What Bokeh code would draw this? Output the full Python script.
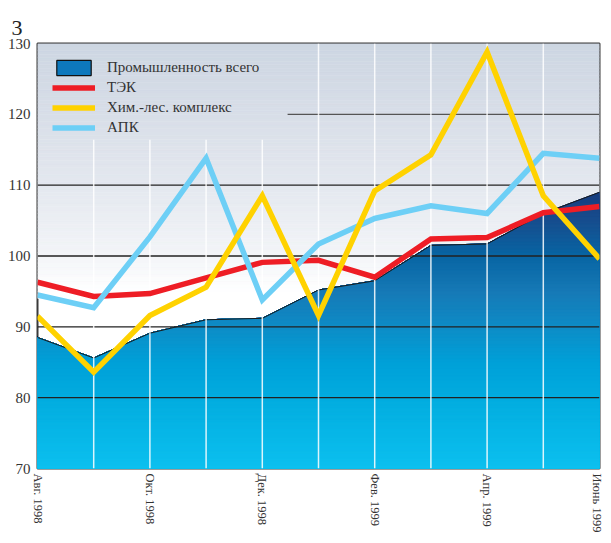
import numpy as np
from bokeh.plotting import figure
from bokeh.models import Range1d, Legend, LegendItem, FixedTicker
from bokeh.embed import file_html
from bokeh.resources import INLINE

# ---- data ----
months = ["Авг. 1998", "Сен. 1998", "Окт. 1998", "Ноя. 1998", "Дек. 1998", "Янв. 1999",
          "Фев. 1999", "Мар. 1999", "Апр. 1999", "Май 1999", "Июнь 1999"]
tick_idx = [0, 2, 4, 6, 8, 10]
industry = [88.5, 85.6, 89.1, 91.0, 91.2, 95.2, 96.5, 101.5, 101.7, 106.0, 109.0]
tek = [96.3, 94.3, 94.7, 96.9, 99.1, 99.4, 97.0, 102.4, 102.6, 106.1, 107.0]
chem = [91.5, 83.6, 91.6, 95.6, 108.5, 91.6, 109.2, 114.3, 128.8, 108.5, 99.6]
apk = [94.5, 92.7, 102.7, 113.8, 93.8, 101.7, 105.3, 107.1, 106.0, 114.5, 113.8]
y_ticks = [70, 80, 90, 100, 110, 120, 130]
series_names = ["Промышленность всего", "ТЭК", "Хим.-лес. комплекс", "АПК"]
panel_number = "3"

x = list(range(len(months)))
Y0, Y1 = 70, 130

FONT = "Liberation Serif"

p = figure(width=603, height=535, x_range=Range1d(0, 10), y_range=Range1d(Y0, Y1),
           output_backend="svg", toolbar_location=None,
           min_border_left=37, min_border_right=4, min_border_top=43, min_border_bottom=65)
p.xgrid.visible = False
p.ygrid.visible = False
p.background_fill_color = "white"
p.border_fill_color = "white"
p.outline_line_color = "#3a3a3a"
p.outline_line_width = 2

p.title.text = panel_number
p.title.text_font = FONT
p.title.text_font_size = "22px"
p.title.text_font_style = "normal"
p.title.text_color = "#222222"
p.title.text_line_height = 1.0
p.title.align = "left"
p.title.offset = -26
p.title.standoff = 18


def lerp_color(stops, v):
    vals = [s[0] for s in stops]
    out = []
    for c in range(3):
        out.append(int(round(np.interp(v, vals, [s[1][c] for s in stops]))))
    return "#%02x%02x%02x" % tuple(out)

# background gradient (top grey-blue to white)
bg_stops = [(95, (255, 255, 255)), (100, (243, 245, 248)), (110, (228, 232, 239)),
            (120, (216, 222, 232)), (130, (205, 214, 226))]
edges = np.arange(94, 130.01, 0.5)
bottoms = edges[:-1]
tops = edges[1:]
bcols = [lerp_color(bg_stops, (a + b) / 2) for a, b in zip(bottoms, tops)]
p.quad(left=0, right=10, bottom=bottoms, top=tops, fill_color=bcols, line_color=bcols, line_width=0.5)

# area with vertical gradient: stacked clipped polygons (top-down)
area_stops = [(70, (12, 192, 239)), (80, (2, 172, 223)), (85, (0, 160, 216)), (90, (14, 140, 198)),
              (95, (22, 121, 182)), (100, (8, 101, 163)), (105, (23, 77, 142)), (110, (22, 56, 122))]


def clip_below(poly, level):
    out = []
    n = len(poly)
    for i in range(n):
        cur = poly[i]
        prev = poly[i - 1]
        cin = cur[1] <= level
        pin = prev[1] <= level
        if cin != pin:
            t = (level - prev[1]) / (cur[1] - prev[1])
            out.append((prev[0] + t * (cur[0] - prev[0]), level))
        if cin:
            out.append(cur)
    return out

poly = [(x[0], Y0)] + list(zip(x, industry)) + [(x[-1], Y0)]
band_tops = np.arange(110, Y0, -0.5)
pxs, pys, pcols = [], [], []
for b in band_tops:
    c = clip_below(poly, b)
    if len(c) >= 3:
        pxs.append([q[0] for q in c])
        pys.append([q[1] for q in c])
        pcols.append(lerp_color(area_stops, b - 0.25))
p.patches(xs=pxs, ys=pys, fill_color=pcols, line_color=pcols, line_width=0.5)
p.line(x, industry, line_color="#1a1a1a", line_width=1)

# grid lines (drawn over the area)
p.segment(x0=[0, 0, 0, 0, 4.45], x1=[10, 10, 10, 10, 10], y0=[80, 90, 100, 110, 120],
          y1=[80, 90, 100, 110, 120], line_color=["#222222"] * 4 + ["#555555"], line_width=1.3)
vx = x[1:-1]
vtop = [116.4 if v < 5 else Y1 for v in vx]
p.segment(x0=vx, x1=vx, y0=[Y0] * len(vx), y1=vtop, line_color="white", line_alpha=0.85, line_width=1.5)

# series lines
r_tek = p.line(x, tek, line_color="#ee1d25", line_width=5.5, line_join="miter")
r_apk = p.line(x, apk, line_color="#6dcff6", line_width=5.5, line_join="miter")
r_chem = p.line(x, chem, line_color="#ffd200", line_width=5.5, line_join="miter")

# legend swatch renderer (placed outside the visible range)
r_area_leg = p.quad(left=[-3], right=[-2], bottom=[60], top=[61],
                    fill_color="#0d78bc", line_color="#111111", line_width=1.2)

legend = Legend(items=[LegendItem(label=series_names[0], renderers=[r_area_leg]),
                       LegendItem(label=series_names[1], renderers=[r_tek]),
                       LegendItem(label=series_names[2], renderers=[r_chem]),
                       LegendItem(label=series_names[3], renderers=[r_apk])],
                location=(15, 331), padding=0, margin=0, spacing=1,
                glyph_width=43, glyph_height=19, label_height=19, label_standoff=12,
                label_text_font=FONT, label_text_font_size="15px", label_text_color="#333333",
                background_fill_alpha=0, border_line_color=None)
p.add_layout(legend, "center")

# axes
p.xaxis.ticker = FixedTicker(ticks=tick_idx)
p.xaxis.major_label_overrides = {i: months[i] for i in tick_idx}
p.xaxis.major_label_orientation = "vertical"
p.yaxis.ticker = FixedTicker(ticks=y_ticks)
for ax in (p.xaxis, p.yaxis):
    ax.axis_line_color = None
    ax.major_tick_line_color = None
    ax.minor_tick_line_color = None
    ax.major_tick_out = 0
    ax.major_tick_in = 0
    ax.major_label_text_font = FONT
    ax.major_label_text_color = "#333333"
p.xaxis.major_label_text_font_size = "12.5px"
p.yaxis.major_label_text_font_size = "15px"
p.xaxis.major_label_standoff = 5
p.yaxis.major_label_standoff = 7

open("out.html", "w").write(file_html(p, INLINE))
